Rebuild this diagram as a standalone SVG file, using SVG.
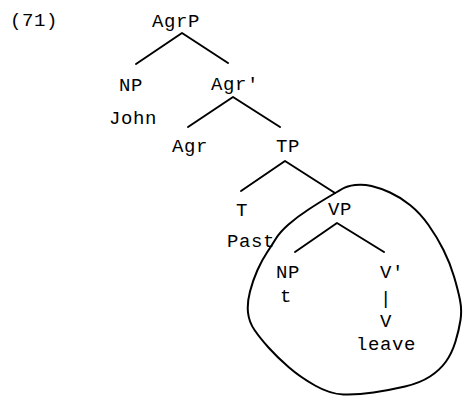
<svg xmlns="http://www.w3.org/2000/svg" width="464" height="396" viewBox="0 0 464 396">
  <style>
    text { font-family: "Liberation Mono", "Courier New", monospace; font-size: 19px; letter-spacing: 0.6px; fill: #000; }
    .edge { fill: none; stroke: #000; stroke-width: 2; stroke-linecap: round; stroke-linejoin: round; }
    .ring { fill: none; stroke: #000; stroke-width: 2; stroke-linejoin: round; stroke-linecap: round; }
  </style>
  <rect width="464" height="396" fill="#fff"/>

  <text id="ex-number" x="10" y="26">(71)</text>

  <!-- branches -->
  <g id="connectors">
    <path class="edge" d="M136 64 L182 33 L228 63"/>
    <path class="edge" d="M188 127 L233 97 L280 127"/>
    <path class="edge" d="M241 191 L285 161 L335 193"/>
    <path class="edge" d="M295 252 L337 223 L384 252"/>
  </g>

  <!-- tree nodes -->
  <g id="agrp"><text x="152" y="27">AgrP</text></g>
  <g id="np-subj"><text x="119" y="91">NP</text><text x="109" y="124">John</text></g>
  <g id="agr-bar"><text x="211" y="90">Agr'</text></g>
  <g id="agr"><text x="172" y="152">Agr</text></g>
  <g id="tp"><text x="276" y="152">TP</text></g>
  <g id="t"><text x="236" y="216">T</text><text x="227" y="247">Past</text></g>
  <g id="vp"><text x="328" y="215">VP</text></g>
  <g id="np-trace"><text x="276" y="278">NP</text><text x="280" y="302">t</text></g>
  <g id="v-bar"><text x="380" y="278">V'</text><text x="380" y="304">|</text></g>
  <g id="v"><text x="380" y="327">V</text><text x="356" y="350">leave</text></g>

  <!-- hand-drawn loop around the VP -->
  <path class="ring" d="M328.5 197 Q320 202 308.5 209.5 Q297 217 288.5 224.5 Q280 232 276 238.5 Q272 245 267 252.5 Q262 260 257.5 270 Q253 280 250 291.5 Q247 303 248 312.5 Q249 322 254.5 330 Q260 338 268.5 347.5 Q277 357 288.5 367 Q300 377 315 385.5 Q330 394 343.5 394.5 Q357 395 373.5 392.5 Q390 390 405 386.5 Q420 383 430 376.5 Q440 370 446 361.5 Q452 353 455.5 341.5 Q459 330 460.5 320 Q462 310 460 300 Q458 290 454 276.5 Q450 263 443.5 250 Q437 237 428.5 225 Q420 213 410 205 Q400 197 390 192.5 Q380 188 371.5 186 Q363 184 355 185 Q347 186 342 189 Q337 192 328.5 197 Z"/>
</svg>
